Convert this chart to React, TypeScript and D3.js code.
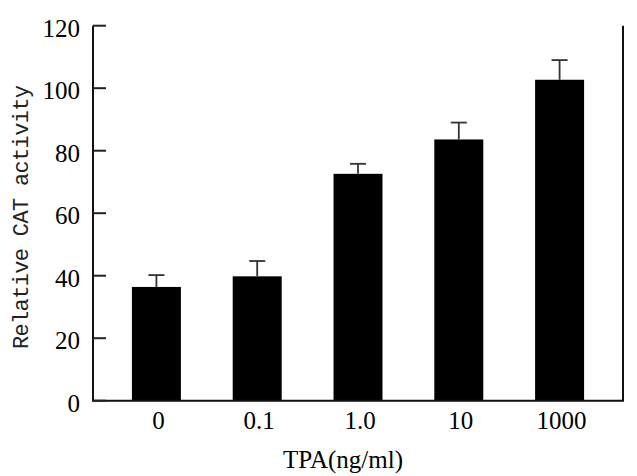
import { useEffect, useRef } from "react";
import * as d3 from "d3";

const categories = ["0", "0.1", "1.0", "10", "1000"];
const means = [36.4, 39.8, 72.6, 83.6, 102.7];
const errors = [3.8, 4.9, 3.2, 5.4, 6.3];
const yTicks = [0, 20, 40, 60, 80, 100, 120];

const serif = "Liberation Serif";

export default function App() {
  const ref = useRef<SVGSVGElement>(null);

  useEffect(() => {
    const svg = d3.select(ref.current);
    svg.selectAll("*").remove();

    const left = 93;
    const right = 623;
    const top = 25.7;
    const bottom = 400.7;

    const x = d3
      .scaleBand<string>()
      .domain(categories)
      .range([left, right])
      .paddingInner(0.514)
      .paddingOuter(0.386);
    const y = d3.scaleLinear().domain([0, 120]).range([bottom, top]);

    const data = categories.map((c, i) => ({ c, v: means[i], e: errors[i] }));

    // bars
    svg
      .append("g")
      .selectAll("rect")
      .data(data)
      .enter()
      .append("rect")
      .attr("x", (d) => x(d.c)!)
      .attr("y", (d) => y(d.v))
      .attr("width", x.bandwidth())
      .attr("height", (d) => y(0) - y(d.v))
      .attr("fill", "#000");

    // error bars (upper only)
    const err = svg.append("g").attr("stroke", "#333").attr("stroke-width", 1.8);
    err
      .selectAll("line.v")
      .data(data)
      .enter()
      .append("line")
      .attr("x1", (d) => x(d.c)! + x.bandwidth() / 2)
      .attr("x2", (d) => x(d.c)! + x.bandwidth() / 2)
      .attr("y1", (d) => y(d.v))
      .attr("y2", (d) => y(d.v + d.e));
    err
      .selectAll("line.h")
      .data(data)
      .enter()
      .append("line")
      .attr("x1", (d) => x(d.c)! + x.bandwidth() / 2 - 8)
      .attr("x2", (d) => x(d.c)! + x.bandwidth() / 2 + 8)
      .attr("y1", (d) => y(d.v + d.e))
      .attr("y2", (d) => y(d.v + d.e));

    // frame: left, bottom, right
    svg
      .append("path")
      .attr("d", `M${left},${top}V${bottom}H${right}V${top}`)
      .attr("fill", "none")
      .attr("stroke", "#111")
      .attr("stroke-width", 2);

    // y ticks (inward) and labels
    const yt = svg.append("g");
    yt.selectAll("line")
      .data(yTicks)
      .enter()
      .append("line")
      .attr("x1", left)
      .attr("x2", left + 13)
      .attr("y1", (d) => y(d))
      .attr("y2", (d) => y(d))
      .attr("stroke", "#222")
      .attr("stroke-width", 2);
    yt.selectAll("text")
      .data(yTicks)
      .enter()
      .append("text")
      .attr("x", 80)
      .attr("y", (d) => y(d) + 11)
      .attr("text-anchor", "end")
      .attr("font-family", serif)
      .attr("font-size", 25)
      .text((d) => d);

    // x labels
    svg
      .append("g")
      .selectAll("text")
      .data(categories)
      .enter()
      .append("text")
      .attr("x", (d) => x(d)! + x.bandwidth() / 2 + 2)
      .attr("y", 429)
      .attr("text-anchor", "middle")
      .attr("font-family", serif)
      .attr("font-size", 25)
      .text((d) => d);

    svg
      .append("text")
      .attr("x", 343)
      .attr("y", 468)
      .attr("text-anchor", "middle")
      .attr("font-family", serif)
      .attr("font-size", 25)
      .text("TPA(ng/ml)");

    svg
      .append("text")
      .attr("transform", `translate(28,217) rotate(-90)`)
      .attr("text-anchor", "middle")
      .attr("textLength", 264)
      .attr("lengthAdjust", "spacing")
      .attr("font-family", "Liberation Mono")
      .attr("font-size", 22)
      .attr("fill", "#222")
      .text("Relative CAT activity");
  }, []);

  return (
    <svg
      ref={ref}
      width={637}
      height={476}
      style={{ position: "absolute", left: 0, top: 0, background: "#fff" }}
    ></svg>
  );
}
